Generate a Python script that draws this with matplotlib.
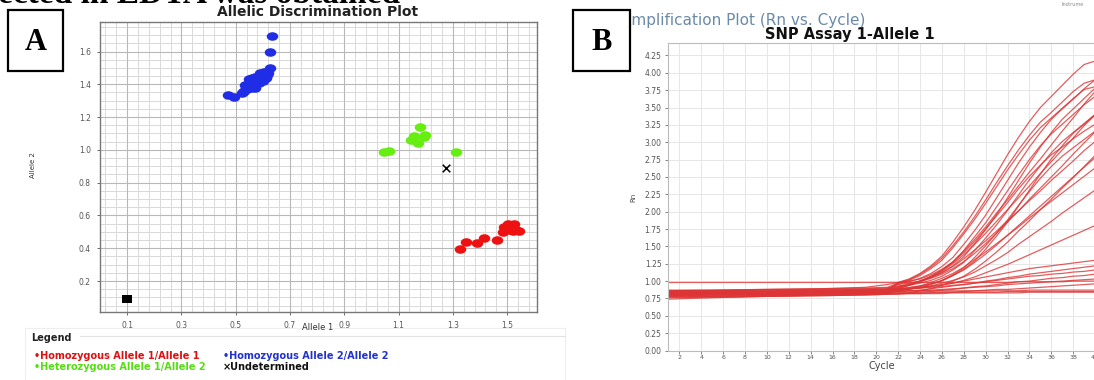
import matplotlib
matplotlib.use("Agg")
import matplotlib.pyplot as plt
import numpy as np
from matplotlib.markers import MarkerStyle
from matplotlib.transforms import Affine2D
from matplotlib.patches import Rectangle
from matplotlib.lines import Line2D

W, H = 1094, 380

# ---------------- Panel A data (Allelic discrimination) ----------------
hom1_x = [1.325, 1.350, 1.389, 1.416, 1.463, 1.485, 1.495, 1.500, 1.510, 1.515,
          1.524, 1.530, 1.542, 1.490, 1.505, 1.520]
hom1_y = [0.395, 0.440, 0.430, 0.460, 0.450, 0.500, 0.520, 0.535, 0.510, 0.530,
          0.546, 0.520, 0.505, 0.530, 0.545, 0.505]

hom2_x = [0.634, 0.628, 0.628, 0.473, 0.492, 0.528, 0.530, 0.540, 0.545, 0.555,
          0.560, 0.550, 0.565, 0.575, 0.580, 0.570, 0.585, 0.595, 0.600, 0.590,
          0.605, 0.615, 0.620, 0.560, 0.548, 0.535, 0.600, 0.610, 0.525, 0.585,
          0.570]
hom2_y = [1.694, 1.596, 1.499, 1.334, 1.322, 1.352, 1.360, 1.370, 1.385, 1.375,
          1.395, 1.410, 1.420, 1.405, 1.430, 1.445, 1.450, 1.440, 1.460, 1.470,
          1.475, 1.455, 1.470, 1.440, 1.430, 1.395, 1.420, 1.440, 1.345, 1.405,
          1.380]

het_x = [1.178, 1.156, 1.144, 1.193, 1.172, 1.199, 1.045, 1.064, 1.313]
het_y = [1.137, 1.084, 1.060, 1.080, 1.043, 1.090, 0.988, 0.994, 0.987]

und_x = [1.276]
und_y = [0.887]

ntc_x = [0.100]
ntc_y = [0.090]

a_xticks = [0.1, 0.3, 0.5, 0.7, 0.9, 1.1, 1.3, 1.5]
a_yticks = [0.2, 0.4, 0.6, 0.8, 1.0, 1.2, 1.4, 1.6]

legend_labels = ["Homozygous Allele 1/Allele 1", "Homozygous Allele 2/Allele 2",
                 "Heterozygous Allele 1/Allele 2", "Undetermined"]

# ---------------- Panel B data (Amplification plot) ----------------
cycles = [1, 5, 10, 15, 19, 21, 22, 23, 24, 25, 26, 27, 28, 29, 30, 31, 32, 33,
          34, 35, 36, 37, 38, 39, 40]

rn_01 = [0.86, 0.87, 0.88, 0.89, 0.91, 0.95, 0.98, 1.03, 1.11, 1.22, 1.36, 1.56, 1.78, 2.02, 2.28, 2.55, 2.82, 3.07, 3.30, 3.50, 3.66, 3.82, 3.98, 4.12, 4.17]
rn_02 = [0.84, 0.85, 0.85, 0.86, 0.87, 0.88, 0.96, 0.99, 1.04, 1.11, 1.21, 1.34, 1.53, 1.73, 1.95, 2.20, 2.45, 2.70, 2.93, 3.14, 3.33, 3.48, 3.62, 3.77, 3.90]
rn_03 = [0.82, 0.83, 0.83, 0.84, 0.85, 0.86, 0.97, 1.01, 1.08, 1.18, 1.30, 1.48, 1.68, 1.89, 2.12, 2.36, 2.60, 2.82, 3.03, 3.21, 3.35, 3.49, 3.63, 3.76, 3.80]
rn_04 = [0.80, 0.81, 0.81, 0.82, 0.83, 0.84, 0.91, 0.94, 0.99, 1.06, 1.15, 1.27, 1.44, 1.64, 1.84, 2.07, 2.30, 2.53, 2.75, 2.95, 3.12, 3.26, 3.40, 3.54, 3.66]
rn_05 = [0.83, 0.83, 0.84, 0.85, 0.86, 0.87, 0.92, 0.94, 0.97, 1.01, 1.07, 1.16, 1.27, 1.44, 1.62, 1.81, 2.02, 2.24, 2.46, 2.66, 2.85, 3.01, 3.14, 3.27, 3.40]
rn_06 = [0.79, 0.80, 0.80, 0.81, 0.82, 0.83, 0.89, 0.94, 1.00, 1.07, 1.16, 1.28, 1.43, 1.60, 1.78, 1.98, 2.17, 2.37, 2.57, 2.76, 2.96, 3.16, 3.35, 3.55, 3.73]
rn_07 = [0.81, 0.82, 0.82, 0.83, 0.84, 0.85, 0.90, 0.94, 1.00, 1.06, 1.14, 1.25, 1.38, 1.53, 1.69, 1.86, 2.03, 2.20, 2.37, 2.55, 2.72, 2.89, 3.06, 3.24, 3.39]
rn_08 = [0.78, 0.78, 0.79, 0.80, 0.81, 0.82, 0.86, 0.88, 0.91, 0.95, 1.01, 1.09, 1.19, 1.34, 1.51, 1.69, 1.88, 2.09, 2.29, 2.48, 2.65, 2.80, 2.92, 3.04, 3.16]
rn_09 = [0.84, 0.84, 0.85, 0.86, 0.87, 0.88, 0.92, 0.96, 1.00, 1.06, 1.12, 1.21, 1.32, 1.45, 1.58, 1.72, 1.87, 2.01, 2.16, 2.30, 2.45, 2.59, 2.73, 2.88, 3.01]
rn_10 = [0.80, 0.80, 0.81, 0.82, 0.83, 0.84, 0.86, 0.88, 0.92, 0.96, 1.01, 1.08, 1.16, 1.27, 1.39, 1.52, 1.66, 1.80, 1.94, 2.08, 2.22, 2.36, 2.50, 2.64, 2.78]
rn_11 = [0.82, 0.82, 0.83, 0.84, 0.85, 0.86, 0.89, 0.91, 0.93, 0.96, 1.00, 1.08, 1.17, 1.29, 1.46, 1.65, 1.85, 2.08, 2.31, 2.54, 2.76, 2.95, 3.13, 3.26, 3.40]
rn_12 = [0.86, 0.86, 0.87, 0.88, 0.89, 0.90, 0.93, 0.95, 0.99, 1.04, 1.10, 1.18, 1.28, 1.40, 1.54, 1.69, 1.85, 2.01, 2.18, 2.34, 2.50, 2.66, 2.83, 2.99, 3.15]
rn_13 = [0.77, 0.77, 0.78, 0.79, 0.80, 0.81, 0.82, 0.83, 0.86, 0.89, 0.94, 1.00, 1.07, 1.17, 1.29, 1.42, 1.56, 1.72, 1.87, 2.03, 2.18, 2.34, 2.49, 2.65, 2.81]
rn_14 = [0.85, 0.85, 0.86, 0.87, 0.88, 0.89, 0.95, 0.97, 1.00, 1.05, 1.12, 1.22, 1.35, 1.54, 1.74, 1.96, 2.20, 2.45, 2.70, 2.93, 3.14, 3.33, 3.48, 3.63, 3.78]
rn_15 = [0.79, 0.79, 0.80, 0.81, 0.82, 0.83, 0.87, 0.90, 0.93, 0.98, 1.04, 1.11, 1.20, 1.31, 1.42, 1.54, 1.66, 1.78, 1.91, 2.03, 2.15, 2.27, 2.39, 2.51, 2.63]
rn_16 = [0.87, 0.87, 0.88, 0.89, 0.90, 0.91, 0.97, 1.00, 1.03, 1.09, 1.17, 1.27, 1.41, 1.57, 1.75, 1.94, 2.13, 2.33, 2.51, 2.67, 2.82, 2.93, 3.05, 3.16, 3.26]
rn_17 = [0.83, 0.83, 0.84, 0.85, 0.86, 0.87, 0.88, 0.89, 0.90, 0.93, 0.97, 1.01, 1.06, 1.13, 1.22, 1.31, 1.41, 1.53, 1.64, 1.75, 1.86, 1.98, 2.09, 2.20, 2.31]
rn_18 = [0.80, 0.81, 0.82, 0.83, 0.85, 0.87, 0.98, 1.02, 1.10, 1.20, 1.33, 1.51, 1.71, 1.93, 2.17, 2.42, 2.66, 2.89, 3.10, 3.29, 3.43, 3.58, 3.73, 3.85, 3.90]
rn_19 = [0.83, 0.83, 0.84, 0.85, 0.86, 0.87, 0.88, 0.89, 0.90, 0.92, 0.94, 0.97, 1.01, 1.06, 1.12, 1.18, 1.24, 1.31, 1.38, 1.45, 1.52, 1.59, 1.66, 1.73, 1.80]
rn_20 = [0.84, 0.84, 0.85, 0.86, 0.87, 0.88, 0.89, 0.90, 0.91, 0.93, 0.95, 0.97, 1.00, 1.03, 1.06, 1.09, 1.12, 1.15, 1.18, 1.20, 1.22, 1.24, 1.26, 1.28, 1.30]
rn_21 = [0.80, 0.81, 0.81, 0.82, 0.83, 0.84, 0.85, 0.86, 0.87, 0.89, 0.91, 0.93, 0.95, 0.97, 1.00, 1.02, 1.05, 1.07, 1.10, 1.12, 1.14, 1.16, 1.18, 1.20, 1.22]
rn_22 = [0.86, 0.86, 0.87, 0.87, 0.88, 0.88, 0.89, 0.89, 0.90, 0.91, 0.92, 0.94, 0.95, 0.97, 0.99, 1.01, 1.03, 1.05, 1.07, 1.08, 1.10, 1.11, 1.13, 1.14, 1.16]
rn_23 = [0.78, 0.78, 0.79, 0.80, 0.81, 0.82, 0.83, 0.83, 0.84, 0.85, 0.87, 0.88, 0.90, 0.92, 0.93, 0.95, 0.97, 0.99, 1.00, 1.02, 1.04, 1.05, 1.07, 1.08, 1.10]
rn_24 = [0.82, 0.82, 0.83, 0.84, 0.84, 0.85, 0.85, 0.86, 0.86, 0.87, 0.88, 0.89, 0.90, 0.91, 0.92, 0.93, 0.95, 0.96, 0.97, 0.98, 0.99, 1.00, 1.01, 1.02, 1.03]
rn_25 = [0.76, 0.77, 0.78, 0.79, 0.80, 0.81, 0.81, 0.82, 0.82, 0.83, 0.84, 0.84, 0.85, 0.86, 0.87, 0.88, 0.88, 0.89, 0.90, 0.91, 0.92, 0.93, 0.94, 0.95, 0.96]
rn_26 = [0.98, 0.98, 0.98, 0.98, 0.98, 0.98, 0.98, 0.98, 0.98, 0.98, 0.98, 0.98, 0.98, 0.98, 0.98, 0.98, 0.98, 0.99, 0.99, 0.99, 0.99, 0.99, 1.00, 1.00, 1.00]
rn_27 = [0.85, 0.85, 0.85, 0.86, 0.86, 0.86, 0.86, 0.86, 0.86, 0.86, 0.86, 0.86, 0.86, 0.86, 0.86, 0.86, 0.86, 0.86, 0.87, 0.87, 0.87, 0.87, 0.87, 0.87, 0.87]
rn_28 = [0.74, 0.76, 0.78, 0.80, 0.81, 0.82, 0.82, 0.82, 0.82, 0.82, 0.82, 0.83, 0.83, 0.83, 0.83, 0.83, 0.83, 0.83, 0.84, 0.84, 0.84, 0.84, 0.84, 0.84, 0.84]
rn_29 = [0.82, 0.82, 0.83, 0.83, 0.83, 0.84, 0.84, 0.84, 0.84, 0.84, 0.84, 0.84, 0.84, 0.84, 0.84, 0.84, 0.85, 0.85, 0.85, 0.85, 0.85, 0.85, 0.85, 0.85, 0.85]

rn_curves = [rn_01, rn_02, rn_03, rn_04, rn_05, rn_06, rn_07, rn_08, rn_09, rn_10,
             rn_11, rn_12, rn_13, rn_14, rn_15, rn_16, rn_17, rn_18, rn_19, rn_20,
             rn_21, rn_22, rn_23, rn_24, rn_25, rn_26, rn_27, rn_28, rn_29]

b_xticks = list(range(2, 42, 2))
b_yticks = [0.00, 0.25, 0.50, 0.75, 1.00, 1.25, 1.50, 1.75, 2.00, 2.25, 2.50,
            2.75, 3.00, 3.25, 3.50, 3.75, 4.00, 4.25]

# ---------------- figure ----------------
plt.rcParams['font.family'] = ['DejaVu Sans']
fig = plt.figure(figsize=(W / 100, H / 100), dpi=100)
fig.patch.set_facecolor('white')


def fx(px):
    return px / W


def fy(py):
    return 1 - py / H


# clipped caption line at the top (only its lower edge shows)
fig.text(fx(-2), fy(3.0), "ected in EDTA was obtained", family='Liberation Serif',
         weight='bold', fontsize=24, ha='left', va='baseline', color='black')

# ---------------- Panel A ----------------
axA = fig.add_axes([fx(100), fy(311.7), 437 / W, 289.7 / H])
axA.set_xlim(0.0, 1.61)
axA.set_ylim(0.013, 1.78)
for v in np.arange(0.02, 1.61, 0.04):
    axA.axvline(v, color='#d9d9d9', lw=0.7, zorder=0)
for v in np.arange(0.05, 1.78, 0.05):
    axA.axhline(v, color='#d9d9d9', lw=0.7, zorder=0)
for v in a_xticks:
    axA.axvline(v, color='#b8b8b8', lw=0.8, zorder=0)
for v in a_yticks:
    axA.axhline(v, color='#b8b8b8', lw=0.8, zorder=0)

ell = MarkerStyle('o', transform=Affine2D().scale(1.35, 1.0))
axA.scatter(hom1_x, hom1_y, marker=ell, s=38, color='#ee1111', linewidths=0, zorder=3)
axA.scatter(hom2_x, hom2_y, marker=ell, s=38, color='#1f2ee6', linewidths=0, zorder=3)
axA.scatter(het_x, het_y, marker=ell, s=38, color='#66ee11', linewidths=0, zorder=3)
axA.scatter(und_x, und_y, marker='x', s=30, color='black', linewidths=1.1, zorder=3)
sq = MarkerStyle('s', transform=Affine2D().scale(1.3, 1.0))
axA.scatter(ntc_x, ntc_y, marker=sq, s=34, color='black', linewidths=0, zorder=3)

axA.set_xticks(a_xticks)
axA.set_xticklabels([f"{v:.1f}" for v in a_xticks])
axA.set_yticks(a_yticks)
axA.set_yticklabels([f"{v:.1f}" for v in a_yticks])
axA.tick_params(labelsize=5.5, colors='#555555', length=2.5, width=0.6, pad=4)
for s in axA.spines.values():
    s.set_color('#777777')
    s.set_linewidth(1.0)

fig.text(fx(318), fy(12.5), "Allelic Discrimination Plot", ha='center', va='center',
         fontsize=10, weight='bold', color='#222222')
fig.text(fx(318), fy(327), "Allele 1", ha='center', va='center', fontsize=6,
         color='#333333')
fig.text(fx(33), fy(165), "Allele 2", ha='center', va='center', fontsize=5,
         rotation=90, color='#333333')

# legend block
fig.patches.append(Rectangle((fx(25), fy(380)), (565 - 25) / W, (380 - 328) / H,
                             transform=fig.transFigure, facecolor='none',
                             edgecolor='#eeeeee', lw=0.8))
fig.lines.append(Line2D([fx(80), fx(565)], [fy(336), fy(336)], transform=fig.transFigure,
                        color='#e2e2e2', lw=0.8))
fig.text(fx(31), fy(338), "Legend", ha='left', va='center', fontsize=7, weight='bold',
         color='#222222')
fig.text(fx(34), fy(356), "\u2022" + legend_labels[0], ha='left', va='center',
         fontsize=7, weight='bold', color='#dd1111')
fig.text(fx(223), fy(356), "\u2022" + legend_labels[1], ha='left', va='center',
         fontsize=7, weight='bold', color='#2233cc')
fig.text(fx(34), fy(367), "\u2022" + legend_labels[2], ha='left', va='center',
         fontsize=7, weight='bold', color='#55dd11')
fig.text(fx(223), fy(367), "\u00d7" + legend_labels[3], ha='left', va='center',
         fontsize=7, weight='bold', color='#111111')

# ---------------- Panel B ----------------
axB = fig.add_axes([fx(668.4), fy(350.5), 437.6 / W, 307.5 / H])
axB.set_xlim(1, 41)
axB.set_ylim(0, 4.43)
axB.set_xticks(b_xticks)
axB.set_xticklabels([str(v) for v in b_xticks])
axB.set_yticks(b_yticks)
axB.set_yticklabels([f"{v:.2f}" for v in b_yticks])
axB.grid(True, color='#e6e6e6', lw=0.7)
axB.set_axisbelow(True)
axB.tick_params(axis='y', labelsize=5.5, colors='#555555', length=2, width=0.5, pad=3)
axB.tick_params(axis='x', labelsize=4.5, colors='#555555', length=2, width=0.5, pad=1.5)
for s in axB.spines.values():
    s.set_color('#bbbbbb')
    s.set_linewidth(0.8)

for curve in rn_curves:
    axB.plot(cycles, curve, color='#dd3535', lw=0.9, alpha=0.8, zorder=2)

fig.text(fx(882), fy(366), "Cycle", ha='center', va='center', fontsize=7,
         color='#444444')
fig.text(fx(633), fy(197), "Rn", ha='center', va='center', fontsize=5,
         rotation=90, color='#444444')
fig.text(fx(850), fy(35), "SNP Assay 1-Allele 1", ha='center', va='center',
         fontsize=10.5, weight='bold', color='#111111')
fig.text(fx(621), fy(21), "Amplification Plot (Rn vs. Cycle)", ha='left', va='center',
         fontsize=11, color='#6a8aa8')
fig.text(fx(1062), fy(4), "Instrume", ha='left', va='center', fontsize=3.5,
         color='#888888')

# ---------------- label boxes ----------------
for (x0, x1, lab) in [(8, 63, "A"), (573, 630, "B")]:
    fig.patches.append(Rectangle((fx(x0), fy(71)), (x1 - x0) / W, (71 - 10) / H,
                                 transform=fig.transFigure, facecolor='white',
                                 edgecolor='black', lw=1.6, zorder=10))
    fig.text(fx((x0 + x1) / 2), fy(42), lab, ha='center', va='center',
             family='Liberation Serif', weight='bold', fontsize=22, zorder=11)

fig.savefig("out.png", dpi=100)
